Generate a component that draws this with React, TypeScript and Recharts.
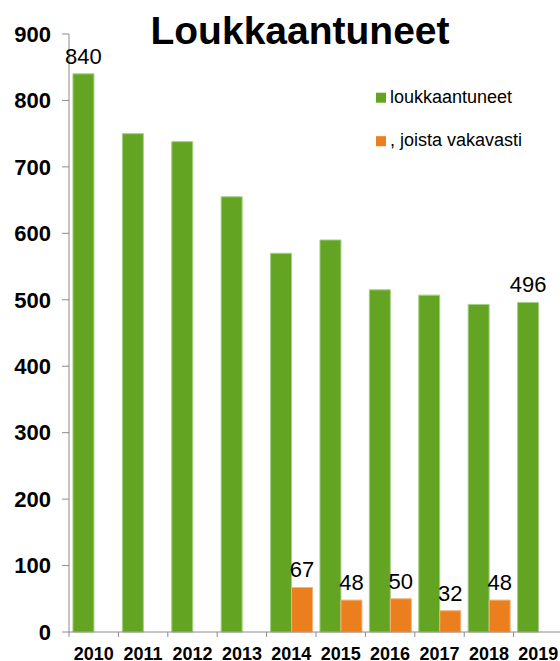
import React from 'react';
import { BarChart, Bar, XAxis, YAxis, LabelList, Customized } from 'recharts';

const years = ['2010', '2011', '2012', '2013', '2014', '2015', '2016', '2017', '2018', '2019'];
const injured = [840, 750, 738, 655, 570, 590, 515, 507, 493, 496];
const seriouslyInjured = [null, null, null, null, 67, 48, 50, 32, 48, null];
const labeledYears = ['2010', '2019'];
const yTicks = [0, 100, 200, 300, 400, 500, 600, 700, 800, 900];
const title = 'Loukkaantuneet';
const injuredName = 'loukkaantuneet';
const seriousName = ', joista vakavasti';

const data = years.map((year, i) => ({
  year,
  injured: injured[i],
  serious: seriouslyInjured[i],
  injuredLabel: labeledYears.includes(year) ? injured[i] : null,
}));

const FONT = '"Liberation Sans", Arial, sans-serif';
const GREEN = '#63A523';
const ORANGE = '#EB7F1E';
const AXIS = '#8c8c8c';
const legendItems = [
  { name: injuredName, color: GREEN },
  { name: seriousName, color: ORANGE },
];

const XTick = (props: any) => {
  const { x, y, payload } = props;
  const left = x - (payload.offset ?? 0);
  return (
    <g>
      <line x1={left} x2={left} y1={y} y2={y + 5} stroke={AXIS} strokeWidth={1} />
      <text x={x} y={y + 28} textAnchor="middle" fontFamily={FONT} fontSize={18} fontWeight="bold" fill="#000">
        {payload.value}
      </text>
    </g>
  );
};

const Overlay = () => (
  <g>
    <text x={300} y={43.5} textAnchor="middle" fontFamily={FONT} fontSize={39} fontWeight="bold" fill="#000">
      {title}
    </text>
    {legendItems.map((item, i) => (
      <g key={i}>
        <rect x={376} y={92.7 + i * 43.5} width={10} height={10} fill={item.color} />
        <text x={390} y={102.7 + i * 43.5} fontFamily={FONT} fontSize={18} fill="#000">
          {item.name}
        </text>
      </g>
    ))}
  </g>
);

export default function App() {
  return (
    <div style={{ position: 'absolute', left: 0, top: 0, width: 560, height: 661, overflow: 'hidden', background: '#fff' }}>
      <BarChart
        width={563}
        height={661}
        data={data}
        margin={{ top: 34, right: 0, bottom: 0, left: 0 }}
        barCategoryGap="8%"
        barGap={0}
      >
        <XAxis
          dataKey="year"
          height={29}
          axisLine={{ stroke: AXIS }}
          tickLine={false}
          tickSize={0}
          tickMargin={0}
          tick={<XTick />}
          interval={0}
        />
        <YAxis
          width={69}
          domain={[0, 900]}
          ticks={yTicks}
          interval={0}
          axisLine={{ stroke: AXIS }}
          tickLine={{ stroke: AXIS }}
          tickSize={7}
          tickMargin={11}
          tick={{ fontFamily: FONT, fontSize: 22, fontWeight: 'bold', fill: '#000' }}
        />
        <Bar dataKey="injured" name={injuredName} fill={GREEN} stroke="#a6cf86" strokeWidth={1} isAnimationActive={false}>
          <LabelList dataKey="injuredLabel" position="top" offset={10} style={{ fontFamily: FONT, fontSize: 22, fill: '#000' }} />
        </Bar>
        <Bar dataKey="serious" name={seriousName} fill={ORANGE} stroke="#f3b27a" strokeWidth={1} isAnimationActive={false}>
          <LabelList dataKey="serious" position="top" offset={10} style={{ fontFamily: FONT, fontSize: 22, fill: '#000' }} />
        </Bar>
        <Customized component={Overlay} />
      </BarChart>
    </div>
  );
}
